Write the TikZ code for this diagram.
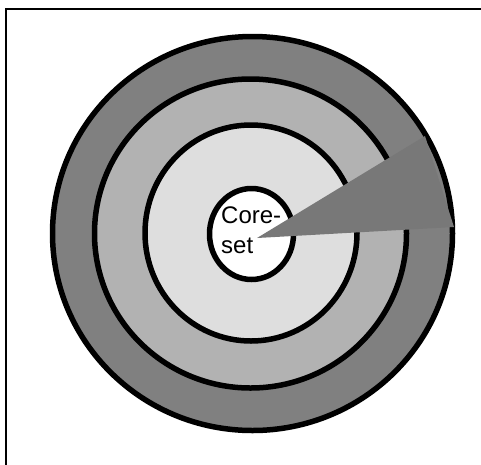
\documentclass[tikz,border=0pt]{standalone}
\usepackage{fontspec}
\setmainfont{Liberation Sans}
\usepackage{tikz}
\usetikzlibrary{positioning}
\usepackage{xcolor}

\begin{document}
\begin{tikzpicture}[x=1pt,y=-1pt,ring/.style={draw=black,line width=5.5pt}]
\useasboundingbox (0,0) rectangle (481,464);
\clip (0,0) rectangle (481,464);
\draw[line width=2pt] (6,8.5) rectangle (500,490);
\filldraw[ring,fill=black!50] (252.5,233.5) ellipse [x radius=200,y radius=197];
\filldraw[ring,fill=black!30] (250.5,233.5) ellipse [x radius=156,y radius=154.5];
\filldraw[ring,fill=black!13] (251,233) ellipse [x radius=106,y radius=108];
\filldraw[ring,fill=white] (251.5,234) ellipse [x radius=42,y radius=45.5];
\node[anchor=north west,inner sep=0pt,align=left,font=\fontsize{24}{30}\selectfont] (core) at (221,207) {Core-\\set};
\fill[black!53] (257,238) -- (425,136) -- (454,227) -- cycle;
\end{tikzpicture}
\end{document}
